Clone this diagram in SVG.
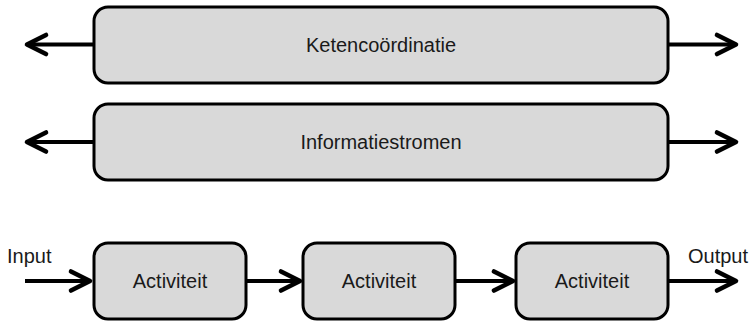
<svg xmlns="http://www.w3.org/2000/svg" width="754" height="322" viewBox="0 0 754 322">
  <style>
    .box { fill: #d9d9d9; stroke: #000; stroke-width: 3; }
    .lbl { font-family: "Liberation Sans", Arial, sans-serif; font-size: 20px; fill: #1a1a1a; }
    .mid { text-anchor: middle; }
    .link { fill: none; stroke: #000; stroke-width: 4; }
  </style>
  <defs>
    <marker id="head" markerUnits="userSpaceOnUse" viewBox="-26 -15 30 30" refX="0" refY="0" markerWidth="30" markerHeight="30" orient="auto-start-reverse">
      <path d="M-19,-9.5 L0,0 L-19,9.5" fill="none" stroke="#000" stroke-width="4.6" stroke-linecap="round" stroke-linejoin="round"/>
    </marker>
  </defs>

  <g id="connectors">
    <path class="link" d="M94,44.5 H27" marker-end="url(#head)"/>
    <path class="link" d="M668,44.5 H736" marker-end="url(#head)"/>
    <path class="link" d="M94,142 H27" marker-end="url(#head)"/>
    <path class="link" d="M668,142 H736" marker-end="url(#head)"/>
    <path class="link" d="M25,281 H90" marker-end="url(#head)"/>
    <path class="link" d="M246,281 H300" marker-end="url(#head)"/>
    <path class="link" d="M455,281 H513" marker-end="url(#head)"/>
    <path class="link" d="M668,281 H736" marker-end="url(#head)"/>
  </g>

  <g id="ketencoordinatie">
    <rect class="box" x="94" y="7" width="574" height="76" rx="14"/>
    <text class="lbl mid" x="381" y="52">Ketencoördinatie</text>
  </g>
  <g id="informatiestromen">
    <rect class="box" x="94" y="104" width="574" height="76" rx="14"/>
    <text class="lbl mid" x="381" y="149">Informatiestromen</text>
  </g>
  <g id="activiteit-1">
    <rect class="box" x="94" y="243" width="152" height="76" rx="14"/>
    <text class="lbl mid" x="170" y="288">Activiteit</text>
  </g>
  <g id="activiteit-2">
    <rect class="box" x="303" y="243" width="152" height="76" rx="14"/>
    <text class="lbl mid" x="379" y="288">Activiteit</text>
  </g>
  <g id="activiteit-3">
    <rect class="box" x="516" y="243" width="152" height="76" rx="14"/>
    <text class="lbl mid" x="592" y="288">Activiteit</text>
  </g>

  <g id="io-labels">
    <text class="lbl" x="7" y="263">Input</text>
    <text class="lbl" x="688" y="263">Output</text>
  </g>
</svg>
